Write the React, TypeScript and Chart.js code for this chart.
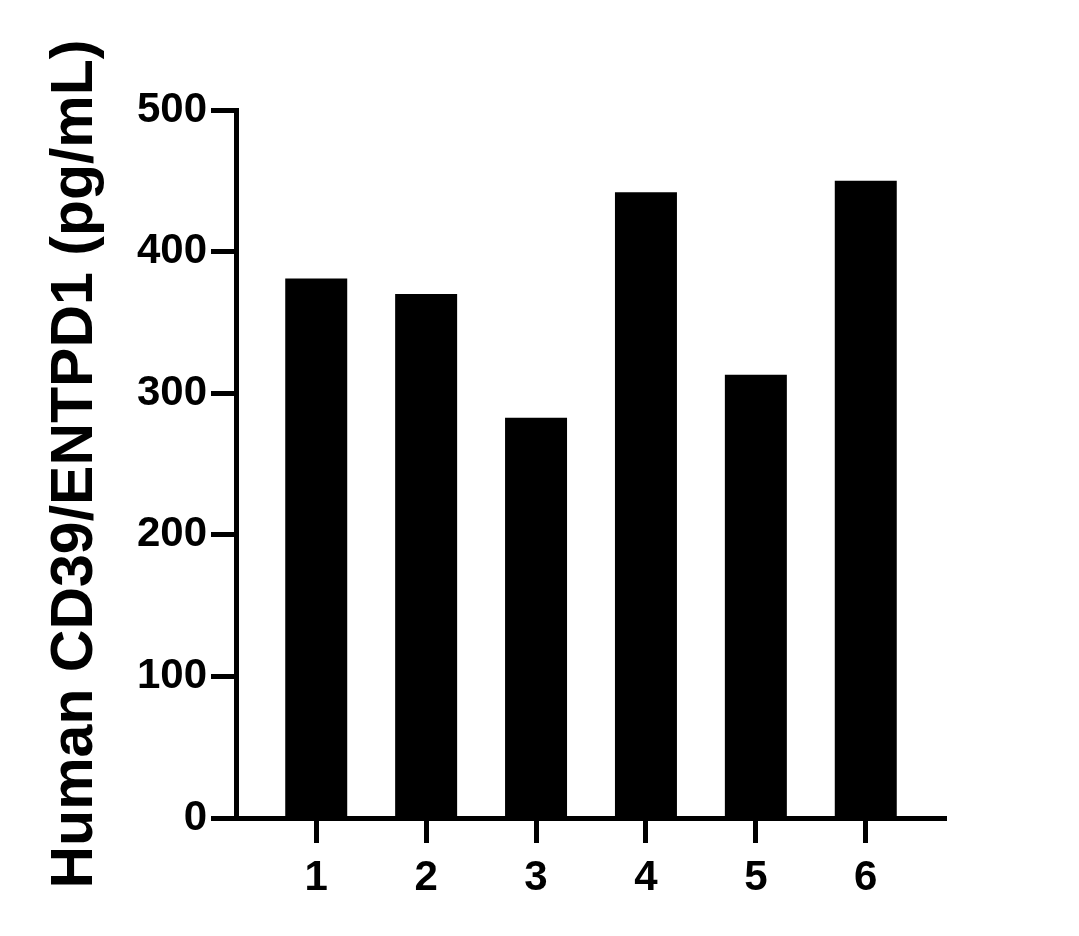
import React, { useEffect, useRef } from "react";
import { Chart, registerables } from "chart.js";

Chart.register(...registerables);

const categories: number[] = [1, 2, 3, 4, 5, 6];
const values: number[] = [381, 370, 282.6, 442, 313, 450];
const yTicks: number[] = [0, 100, 200, 300, 400, 500];
const yTitle = "Human CD39/ENTPD1 (pg/mL)";

export default function App() {
  const ref = useRef<HTMLCanvasElement | null>(null);

  useEffect(() => {
    if (!ref.current) return;
    const font = "'Liberation Sans', Arial, Helvetica, sans-serif";
    const chart = new Chart(ref.current, {
      type: "bar",
      data: {
        datasets: [
          {
            data: categories.map((c, i) => ({ x: c, y: values[i] })),
            backgroundColor: "#000000",
            borderWidth: 0,
            categoryPercentage: 1,
            barPercentage: 0.564,
          },
        ],
      },
      options: {
        animation: false,
        responsive: true,
        maintainAspectRatio: false,
        layout: { padding: { top: 110, right: 133, bottom: 0, left: 0 } },
        plugins: { legend: { display: false }, tooltip: { enabled: false } },
        scales: {
          x: {
            type: "linear",
            offset: false,
            min: 0.27,
            max: 6.73,
            afterBuildTicks: (scale: any) => {
              scale.ticks = categories.map((v) => ({ value: v }));
            },
            afterFit: (scale: any) => {
              scale.height = 118;
            },
            border: { display: true, color: "#000", width: 5 },
            grid: {
              display: true,
              offset: false,
              drawOnChartArea: false,
              drawTicks: true,
              tickLength: 25,
              tickWidth: 5,
              tickColor: "#000",
            },
            ticks: {
              color: "#000",
              padding: 10,
              maxRotation: 0,
              autoSkip: false,
              font: { family: font, size: 42, weight: "bold" },
              callback: (v: any) => String(v),
            },
          },
          y: {
            min: 0,
            max: 500,
            afterBuildTicks: (scale: any) => {
              scale.ticks = yTicks.map((v) => ({ value: v }));
            },
            afterFit: (scale: any) => {
              scale.width = 236;
            },
            border: { display: true, color: "#000", width: 5 },
            grid: {
              display: true,
              drawOnChartArea: false,
              drawTicks: true,
              tickLength: 25,
              tickWidth: 5,
              tickColor: "#000",
            },
            ticks: {
              color: "#000",
              padding: 4,
              font: { family: font, size: 42, weight: "bold" },
            },
            title: {
              display: true,
              text: yTitle,
              color: "#000",
              padding: { top: 40, bottom: 0 },
              font: { family: font, size: 59, weight: "bold" },
            },
          },
        },
      },
    } as any);
    return () => chart.destroy();
  }, []);

  return (
    <div
      style={{
        position: "absolute",
        left: 0,
        top: 0,
        width: 1079,
        height: 936,
        background: "#fff",
      }}
    >
      <canvas ref={ref} />
    </div>
  );
}
